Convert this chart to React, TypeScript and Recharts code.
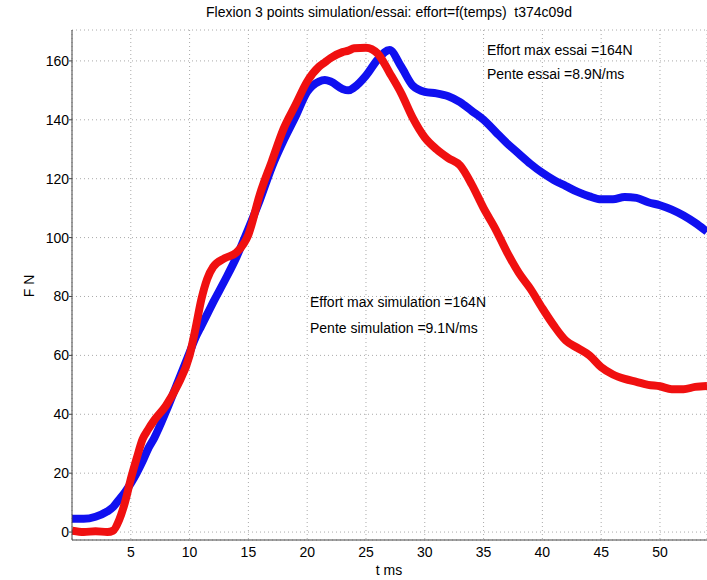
import { CartesianGrid, Customized, Line, LineChart, XAxis, YAxis } from "recharts"

const font = "'Liberation Sans', Arial, Helvetica, sans-serif"

// temps en ms
const temps = [
  0, 1, 2, 3, 3.5, 4, 4.5, 5, 5.5, 6, 6.5, 7, 8, 9, 10, 10.5, 11, 11.5, 12, 13, 14, 15, 16, 17, 18, 19, 20,
  21, 21.5, 22, 23, 23.5, 24, 25, 26, 27, 28, 29, 30, 31, 32, 33, 34, 35, 36, 37, 38, 39, 40, 41, 42, 43,
  44, 45, 46, 47, 48, 49, 50, 51, 52, 53, 54,
]

// effort essai (bleu), N
const effortEssai = [
  4.5, 4.5, 5.2, 7, 8.5, 11, 13.5, 16.5, 20, 24, 28.5, 32, 41, 51, 61, 66, 70, 74, 78, 85.5, 93.5, 103, 113,
  124, 133, 141, 149.5, 153, 153.5, 153, 150.5, 150, 151, 155, 160.5, 163.7, 158, 151.5, 149.5, 149, 148,
  146, 143, 140, 136, 132, 128.5, 125, 122, 119.5, 117.5, 115.5, 114, 113, 113, 113.8, 113.5, 112, 111,
  109.5, 107.5, 105, 102,
]

// effort simulation (rouge), N
const effortSimulation = [
  0.5, 0, 0.3, 0, 0.5, 4, 10, 18, 25, 31.5, 35, 38, 43, 50, 60, 69, 79, 86, 90, 93, 95, 101, 115, 126, 137,
  145, 153, 158, 159.5, 161, 163, 163.5, 164.3, 164.5, 162.5, 156, 149, 140.5, 134, 130, 127, 124.5, 118,
  110, 103, 95, 88, 82.5, 76, 70, 65, 62.5, 60, 56, 53.5, 52, 51, 50, 49.5, 48.5, 48.5, 49.3, 49.6,
]

const xTicks = [5, 10, 15, 20, 25, 30, 35, 40, 45, 50]
const yTicks = [0, 20, 40, 60, 80, 100, 120, 140, 160]

const data = temps.map((t, i) => ({ t, essai: effortEssai[i], simulation: effortSimulation[i] }))

function Texts() {
  return (
    <g fontFamily={font} fill="#000">
      <text x={389} y={17} fontSize={14} textAnchor="middle" style={{ whiteSpace: "pre" }}>
        {"Flexion 3 points simulation/essai: effort=f(temps)  t374c09d"}
      </text>
      <text x={487} y={55} fontSize={14}>Effort max essai =164N</text>
      <text x={487} y={79} fontSize={14}>Pente essai =8.9N/ms</text>
      <text x={310} y={307} fontSize={14}>Effort max simulation =164N</text>
      <text x={310} y={333} fontSize={14}>Pente simulation =9.1N/ms</text>
      <text x={389} y={575} fontSize={14} textAnchor="middle">t ms</text>
      <text x={34} y={286} fontSize={14} textAnchor="middle" transform="rotate(-90 34 286)">F N</text>
    </g>
  )
}

export default function App() {
  return (
    <div style={{ position: "absolute", left: 0, top: 0, background: "#fff" }}>
      <LineChart width={707} height={580} data={data} margin={{ top: 30, right: 0, bottom: 0, left: 0 }}>
        <CartesianGrid stroke="#aaa" strokeDasharray="1 3" />
        <XAxis
          dataKey="t"
          type="number"
          domain={[0, 54]}
          ticks={xTicks}
          allowDataOverflow
          height={40}
          tickLine={false}
          tickSize={5}
          tickMargin={2}
          axisLine={{ stroke: "#444" }}
          tick={{ fill: "#000", fontSize: 14, fontFamily: font }}
        />
        <YAxis
          type="number"
          domain={[-2.7, 170.5]}
          ticks={yTicks}
          allowDataOverflow
          width={72}
          tickLine={{ stroke: "#444" }}
          tickSize={3}
          tickMargin={0}
          axisLine={{ stroke: "#444" }}
          tick={{ fill: "#000", fontSize: 14, fontFamily: font }}
        />
        <Line
          dataKey="essai"
          type="monotone"
          stroke="#1010f0"
          strokeWidth={8}
          dot={false}
          isAnimationActive={false}
        />
        <Line
          dataKey="simulation"
          type="monotone"
          stroke="#f01010"
          strokeWidth={8}
          dot={false}
          isAnimationActive={false}
        />
        <Customized component={Texts} />
      </LineChart>
    </div>
  )
}
